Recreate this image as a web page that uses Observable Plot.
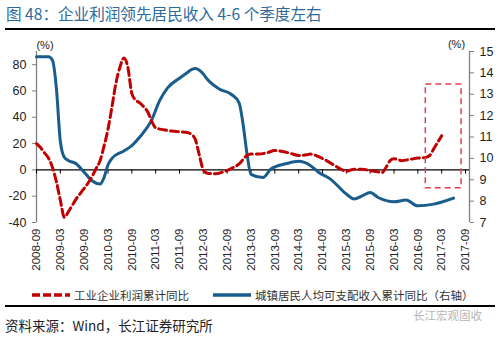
<!DOCTYPE html>
<html><head><meta charset="utf-8">
<script src="https://cdn.jsdelivr.net/npm/d3@7"></script>
<script src="https://cdn.jsdelivr.net/npm/@observablehq/plot@0.6"></script>
<style>
html,body{margin:0;padding:0;background:#fff;}
body{width:500px;height:337px;position:relative;overflow:hidden;font-family:"Noto Sans CJK SC","Liberation Sans",Arial,sans-serif;}
#title{position:absolute;left:6px;top:3px;font-size:15.6px;line-height:20px;color:#2b6a9b;white-space:nowrap;}
.rule{position:absolute;left:5px;width:490px;height:2px;background:#000;}
#chart{position:absolute;left:0;top:30px;}
.leg{position:absolute;top:286px;height:18px;display:flex;align-items:center;font-size:11.5px;color:#333;white-space:nowrap;}
.leg svg{margin-right:4px;}
#source{position:absolute;left:5px;top:316px;font-size:13.5px;line-height:18px;color:#222;white-space:nowrap;}
#wm{position:absolute;left:413px;top:307px;font-size:11.5px;line-height:16px;color:#b5b5b5;white-space:nowrap;}
</style></head>
<body>
<div id="title">图 48：企业利润领先居民收入 4-6 个季度左右</div>
<div class="rule" style="top:28px"></div>
<div id="chart"></div>
<div id="legend"></div>
<div class="rule" style="top:305px"></div>
<div id="source">资料来源：Wind，长江证券研究所</div>
<div id="wm">长江宏观固收</div>
<script>
// ---- data ----
const profitMonths = ["2008-09","2008-10","2008-11","2008-12","2009-01","2009-02","2009-03","2009-04","2009-05","2009-06","2009-07","2009-08","2009-09","2009-10","2009-11","2009-12","2010-01","2010-02","2010-03","2010-04","2010-05","2010-06","2010-07","2010-08","2010-09","2010-10","2010-11","2010-12","2011-01","2011-02","2011-03","2011-05","2011-07","2011-09","2011-11","2011-12","2012-01","2012-02","2012-03","2012-04","2012-06","2012-08","2012-10","2012-12","2013-02","2013-03","2013-05","2013-07","2013-09","2013-11","2014-01","2014-03","2014-05","2014-06","2014-08","2014-10","2014-12","2015-02","2015-03","2015-05","2015-07","2015-09","2015-11","2015-12","2016-01","2016-02","2016-03","2016-05","2016-07","2016-09","2016-11","2016-12","2017-01","2017-02","2017-03"];
const profitValues = [20,17,13,9,2,-9,-23,-36,-32,-27,-22,-18,-14,-10,-5,1,7,18,31,48,66,78,85,78,58,53,51,48,44,37,32,30.5,29.5,29,28.5,27,23,11,0,-2.5,-3,-1.5,1,4.5,11,12,12,13,14.7,14,12.5,11,11.5,12,10,7,3.5,0,-1,0.5,0.5,-0.5,-1.5,-2,2,7,8.4,7,8,9,9.5,11,16,21,26];

const incomeMonths = ["2008-09","2008-12","2009-01","2009-02","2009-03","2009-04","2009-05","2009-07","2009-09","2009-11","2010-01","2010-02","2010-03","2010-04","2010-07","2010-09","2010-11","2011-02","2011-04","2011-06","2011-09","2011-11","2011-12","2012-01","2012-02","2012-03","2012-04","2012-07","2012-10","2012-12","2013-01","2013-02","2013-03","2013-06","2013-08","2013-12","2014-03","2014-06","2014-08","2014-11","2015-03","2015-05","2015-07","2015-09","2015-11","2016-03","2016-06","2016-09","2017-01","2017-06"];
const incomeValues = [14.75,14.75,14.6,13.3,10.8,10.05,9.9,9.75,9.35,8.95,8.8,9.1,9.7,10.0,10.35,10.6,11.0,11.8,12.7,13.3,13.75,14.02,14.15,14.2,14.12,13.95,13.7,13.25,13.0,12.6,11.6,10.2,9.25,9.1,9.5,9.76,9.86,9.66,9.35,9.03,8.33,8.1,8.25,8.4,8.17,7.97,8.05,7.78,7.86,8.14];

const xTickLabels = ["2008-09","2009-03","2009-09","2010-03","2010-09","2011-03","2011-09","2012-03","2012-09","2013-03","2013-09","2014-03","2014-09","2015-03","2015-09","2016-03","2016-09","2017-03","2017-09"];
const leftTicks = [-40,-20,0,20,40,60,80];
const rightTicks = [7,8,9,10,11,12,13,14,15];
const leftDomain = [-40, 90];
const rightDomain = [7, 15];
const seriesNames = ["工业企业利润累计同比", "城镇居民人均可支配收入累计同比（右轴）"];
const highlightMonths = ["2016-11", "2017-08"];
const highlightRange = [-14, 65];
const unitLabel = "(%)";

// ---- helpers ----
const RED = "#c00000", BLUE = "#1a5d8c";
const mIdx = s => { const [y, m] = s.split("-").map(Number); return (y - 2008) * 12 + (m - 9); };
const toLeft = r => leftDomain[0] + (r - rightDomain[0]) * (leftDomain[1] - leftDomain[0]) / (rightDomain[1] - rightDomain[0]);
const toRight = l => rightDomain[0] + (l - leftDomain[0]) * (rightDomain[1] - rightDomain[0]) / (leftDomain[1] - leftDomain[0]);

const profit = profitMonths.map((m, i) => ({i: mIdx(m), v: profitValues[i]}));
const income = incomeMonths.map((m, i) => ({i: mIdx(m), v: incomeValues[i]}));
const tickIdx = xTickLabels.map(mIdx);
const xEnd = mIdx("2017-10");
const box = [{x1: mIdx(highlightMonths[0]), x2: mIdx(highlightMonths[1]), y1: highlightRange[0], y2: highlightRange[1]}];

const chart = Plot.plot({
  width: 500, height: 250,
  marginLeft: 36, marginRight: 31, marginTop: 21, marginBottom: 58,
  x: {domain: [0, xEnd]},
  y: {domain: leftDomain},
  style: {fontFamily: "'Liberation Sans', Arial, sans-serif", fontSize: "12.5px", color: "#222", background: "transparent"},
  marks: [
    Plot.ruleX([0], {y1: leftDomain[0], y2: leftDomain[1], stroke: "#7f7f7f", strokeWidth: 1.3}),
    Plot.ruleX([xEnd], {y1: leftDomain[0], y2: leftDomain[1], stroke: "#7f7f7f", strokeWidth: 1.3}),
    Plot.axisY(leftTicks, {anchor: "left", tickSize: 4, tickPadding: 6, stroke: "#7f7f7f", tickFormat: d => String(d), fill: "#222"}),
    Plot.axisY(rightTicks.map(toLeft), {anchor: "right", tickSize: 4, tickPadding: 6, stroke: "#7f7f7f", tickFormat: d => String(Math.round(toRight(d))), fill: "#222"}),
    Plot.axisX(tickIdx, {anchor: "bottom", tickSize: 0, tickPadding: 6, tickRotate: -90, fontSize: 11.5, tickFormat: d => xTickLabels[tickIdx.indexOf(d)], fill: "#222"}),
    Plot.ruleY([0], {stroke: "#000", strokeWidth: 1.2}),
    Plot.ruleX(tickIdx, {y1: 0, y2: -3.2, stroke: "#000", strokeWidth: 1}),
    Plot.line(income, {x: "i", y: d => toLeft(d.v), stroke: BLUE, strokeWidth: 3, curve: "monotone-x"}),
    Plot.line(profit, {x: "i", y: "v", stroke: RED, strokeWidth: 3, strokeDasharray: "8,4", curve: "monotone-x"}),
    Plot.rect(box, {x1: "x1", x2: "x2", y1: "y1", y2: "y2", fill: "none", stroke: "#e2404f", strokeWidth: 1.5, strokeDasharray: "6,4"}),
    Plot.text([unitLabel], {frameAnchor: "top-left", dx: 8.5, dy: -6, textAnchor: "middle", lineAnchor: "middle", fontSize: 11, fill: "#222"}),
    Plot.text([unitLabel], {frameAnchor: "top-right", dx: -13, dy: -7, textAnchor: "middle", lineAnchor: "middle", fontSize: 11, fill: "#222"})
  ]
});
document.getElementById("chart").appendChild(chart);

// legend
const legend = document.getElementById("legend");
const items = [
  {name: seriesNames[0], color: RED, dash: "8,3", left: 32},
  {name: seriesNames[1], color: BLUE, dash: null, left: 213}
];
for (const it of items) {
  const d = document.createElement("div");
  d.className = "leg";
  d.style.left = it.left + "px";
  d.innerHTML = `<svg width="38" height="6"><line x1="0" y1="3" x2="38" y2="3" stroke="${it.color}" stroke-width="3.5" ${it.dash ? `stroke-dasharray="${it.dash}"` : ""}/></svg><span>${it.name}</span>`;
  legend.appendChild(d);
}
</script>
</body></html>
